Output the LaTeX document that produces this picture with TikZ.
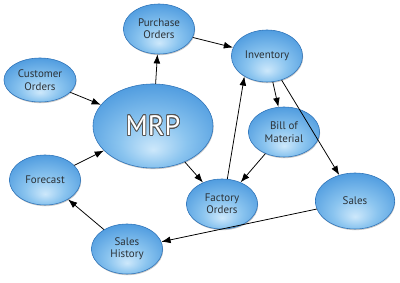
\documentclass[tikz,border=0pt]{standalone}
\usepackage{fontspec}
\setmainfont{PT Sans}
\usepackage{xcolor}
\usepackage[copies]{contour}
\usepackage{tikz}
\usetikzlibrary{shapes.geometric,shadows,arrows.meta}
\definecolor{MRPLight}{HTML}{CDE8FB}
\definecolor{MRPMid}{HTML}{8AC4EF}
\definecolor{MRPDark}{HTML}{3D8FDA}
\definecolor{MRPEdge}{HTML}{2C72B8}
\definecolor{MRPText}{HTML}{2B3136}
\pgfdeclareradialshading{bubbleshade}{\pgfpoint{0bp}{-14bp}}{%
  color(0bp)=(MRPLight); color(14bp)=(MRPMid); color(36bp)=(MRPDark); color(50bp)=(MRPDark)}
\tikzset{
  bubble/.style={ellipse,shading=bubbleshade,draw=MRPEdge,line width=0.4pt,
    minimum width=1.78cm,minimum height=1.25cm,inner sep=0pt,align=center,
    text=MRPText,font=\fontsize{7.8}{8.8}\selectfont,
    drop shadow={shadow xshift=0.4pt,shadow yshift=-0.8pt,opacity=0.45}},
  flow/.style={-{Latex[length=2.3mm,width=1.7mm]},line width=0.55pt,black}
}
\contourlength{0.6pt}

\begin{document}
\begin{tikzpicture}[x=0.025cm,y=0.025cm]
\path[use as bounding box] (0,0) rectangle (400,282);
% bubbles
\node[bubble,minimum width=3.0cm,minimum height=2.1cm] (mrp) at (153,156)
  {\fontsize{20}{20}\selectfont\contour{gray!65!black}{\color{white}MRP}};
\node[bubble] (purchase) at (159,253) {Purchase\\Orders};
\node[bubble,minimum width=1.8cm,minimum height=1.1cm] (customer) at (40,202) {Customer\\Orders};
\node[bubble,minimum height=1.3cm] (inventory) at (267,226) {Inventory};
\node[bubble] (bill) at (284,150) {Bill of\\Material};
\node[bubble] (factory) at (222,78) {Factory\\Orders};
\node[bubble,minimum width=1.98cm,minimum height=1.4cm] (sales) at (355,81) {Sales};
\node[bubble] (forecast) at (45,102) {Forecast};
\node[bubble] (history) at (127,33) {Sales\\History};
% flows
\draw[flow] (customer) -- (mrp);
\draw[flow] (mrp) -- (purchase);
\draw[flow] (purchase) -- (inventory);
\draw[flow] (inventory) -- (bill);
\draw[flow] (inventory) -- (sales);
\draw[flow] (bill) -- (factory);
\draw[flow] (factory.78) -- (inventory.222);
\draw[flow] (mrp) -- (factory);
\draw[flow] (sales) -- (history);
\draw[flow] (history) -- (forecast);
\draw[flow] (forecast) -- (mrp);
\end{tikzpicture}
\end{document}
